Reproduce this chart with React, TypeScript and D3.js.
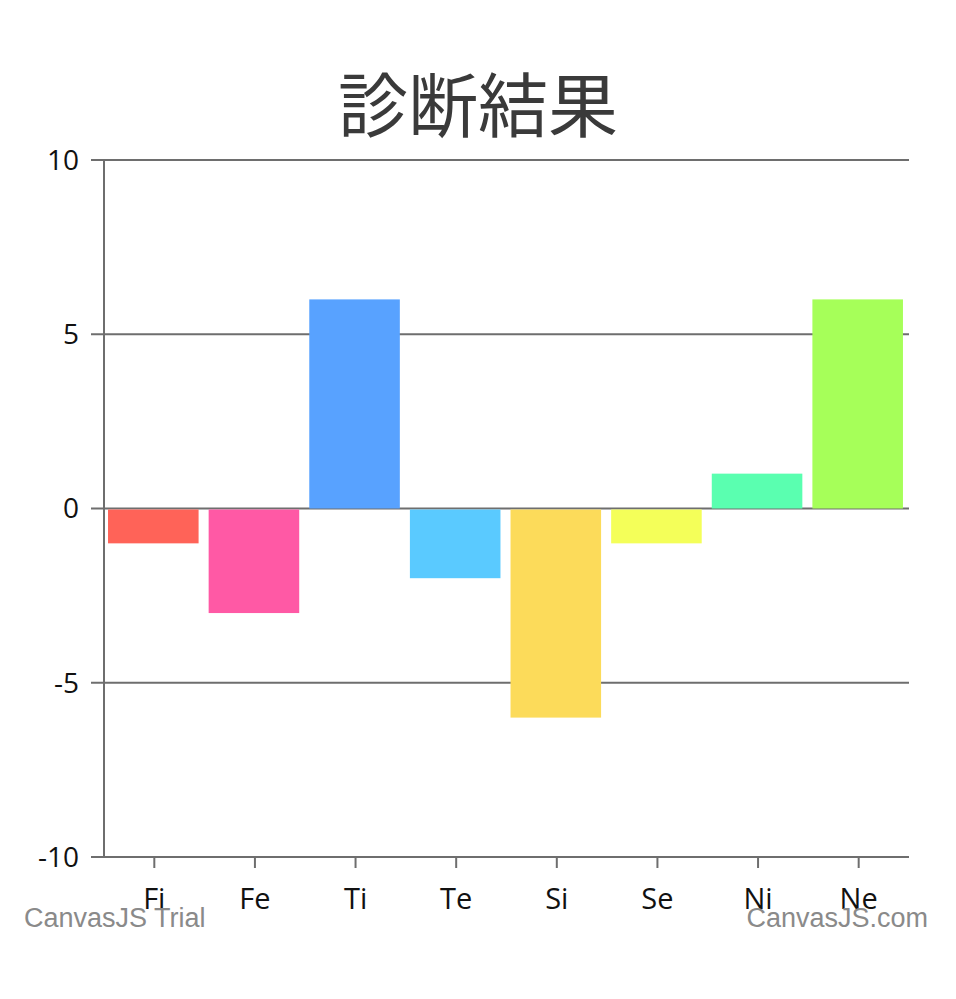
import React from "react";
import * as d3 from "d3";

const categories = ["Fi", "Fe", "Ti", "Te", "Si", "Se", "Ni", "Ne"];
const values = [-1, -3, 6, -2, -6, -1, 1, 6];
const barColors = ["#FF6358", "#FF59A5", "#58A2FF", "#5ACAFF", "#FCDB5A", "#F4FF59", "#5AFFB0", "#A6FF59"];
const yTicks = [-10, -5, 0, 5, 10];
const title = "診断結果";

const W = 956;
const H = 999;
const margin = { top: 160, right: 47, bottom: 142, left: 104 };

function App() {
  const x = d3
    .scaleBand<string>()
    .domain(categories)
    .range([margin.left, W - margin.right])
    .paddingInner(0.1)
    .paddingOuter(0.05)
    .align(0.4);

  const y = d3
    .scaleLinear()
    .domain([-10, 10])
    .range([H - margin.bottom, margin.top]);

  const labelFont = "'Open Sans', 'Noto Sans', sans-serif";

  return (
    <svg
      width={W}
      height={H}
      style={{ position: "absolute", left: 0, top: 0, background: "#fff" }}
    >
      <text
        x={W / 2}
        y={132}
        textAnchor="middle"
        fontFamily="'Noto Sans CJK JP', sans-serif"
        fontSize={70}
        fill="#3a3a3a"
      >
        {title}
      </text>

      {/* gridlines + y ticks */}
      {yTicks.map((t) => (
        <g key={t}>
          <line
            x1={91}
            x2={W - margin.right}
            y1={y(t)}
            y2={y(t)}
            stroke="#6e6e6e"
            strokeWidth={2}
          />
          <text
            x={79}
            y={y(t)}
            dy="0.35em"
            textAnchor="end"
            fontFamily={labelFont}
            fontSize={28}
            fill="#111"
          >
            {t}
          </text>
        </g>
      ))}

      {/* bars */}
      {categories.map((c, i) => {
        const v = values[i];
        return (
          <rect
            key={c}
            x={x(c)}
            width={x.bandwidth()}
            y={v >= 0 ? y(v) : y(0) + 1}
            height={Math.abs(y(v) - y(0)) - (v >= 0 ? 0 : 1)}
            fill={barColors[i]}
          />
        );
      })}

      {/* y axis line */}
      <line
        x1={margin.left}
        x2={margin.left}
        y1={margin.top}
        y2={H - margin.bottom}
        stroke="#6e6e6e"
        strokeWidth={2}
      />

      {/* x ticks + labels */}
      {categories.map((c) => {
        const cx = (x(c) as number) + x.bandwidth() / 2 + 1;
        return (
          <g key={c}>
            <line
              x1={cx}
              x2={cx}
              y1={H - margin.bottom}
              y2={H - margin.bottom + 11}
              stroke="#6e6e6e"
              strokeWidth={2}
            />
            <text
              x={cx}
              y={909}
              textAnchor="middle"
              fontFamily={labelFont}
              fontSize={29}
              fill="#111"
            >
              {c}
            </text>
          </g>
        );
      })}

      <text
        x={24}
        y={927}
        fontFamily="'Liberation Sans', Arial, sans-serif"
        fontSize={27}
        fill="#8a8a8a"
      >
        CanvasJS Trial
      </text>
      <text
        x={928}
        y={927}
        textAnchor="end"
        fontFamily="'Liberation Sans', Arial, sans-serif"
        fontSize={27}
        fill="#8a8a8a"
      >
        CanvasJS.com
      </text>
    </svg>
  );
}

export default App;
